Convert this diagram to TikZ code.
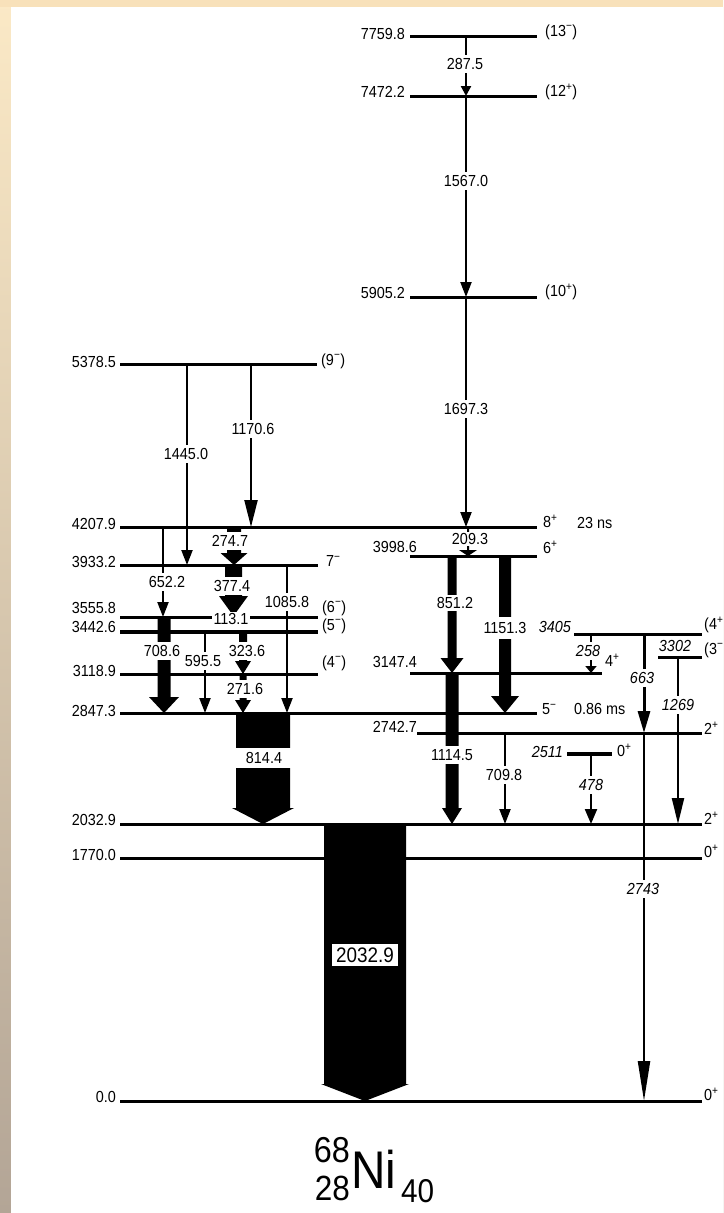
\documentclass[tikz,border=0pt]{standalone}
\usepackage{fontspec}
\setmainfont{Liberation Sans}[FakeStretch=0.9]
\usetikzlibrary{arrows.meta}
\definecolor{bgtop}{HTML}{FBE9C6}
\definecolor{bgmid}{HTML}{E6D3B9}
\definecolor{bgbot}{HTML}{B3A596}
\definecolor{bgstrip}{HTML}{F8E1BA}
\newcommand\sP{\textsuperscript{+}}
\newcommand\sM{\textsuperscript{\symbol{"2212}}}
\newcommand\fatarr[6]{\fill (#1-#4,#2) -- (#1-#4,#3-#6) -- (#1-#5,#3-#6) -- (#1,#3) -- (#1+#5,#3-#6) -- (#1+#4,#3-#6) -- (#1+#4,#2) -- cycle;}
\newcommand\lev[3]{\draw[lvl] (#2,0 |- #1) -- (#3,0 |- #1);}
\begin{document}
\begin{tikzpicture}[x=1pt,y=-1pt,
  font=\fontsize{16}{19}\selectfont,
  lvl/.style={line width=3pt},
  tr/.style={line width=2.2pt},
  arS/.style={-{Triangle[length=15pt,width=11pt]}},
  elab/.style={anchor=east,inner sep=0pt},
  sp/.style={anchor=west,inner sep=0pt},
  gl/.style={fill=white,inner xsep=1.5pt,inner ysep=3.5pt},
  gli/.style={gl,font=\fontsize{16}{19}\selectfont\itshape},
  ital/.style={font=\fontsize{16}{19}\selectfont\itshape}]
\useasboundingbox (0,0) rectangle (723,1213);
\clip (0,0) rectangle (723,1213);
% background
\shade[top color=bgtop,middle color=bgmid,bottom color=bgbot] (0,0) rectangle (723,1213);
\fill[bgstrip] (0,0) rectangle (723,7);
\fill[white] (11,7) rectangle (723,1213);
% level coordinates
\coordinate (L7760) at (0,36);
\coordinate (L7472) at (0,96);
\coordinate (L5905) at (0,297);
\coordinate (L5379) at (0,364);
\coordinate (L4208) at (0,527);
\coordinate (L3999) at (0,556);
\coordinate (L3933) at (0,565);
\coordinate (L3556) at (0,617);
\coordinate (L3443) at (0,632);
\coordinate (L3405) at (0,634);
\coordinate (L3302) at (0,657);
\coordinate (L3147) at (0,673);
\coordinate (L3119) at (0,674);
\coordinate (L2847) at (0,713);
\coordinate (L2743) at (0,733);
\coordinate (L2511) at (0,754);
\coordinate (L2033) at (0,824);
\coordinate (L1770) at (0,858);
\coordinate (L0) at (0,1101);
% level lines
\lev{L7760}{410}{537}
\lev{L7472}{410}{537}
\lev{L5905}{410}{537}
\lev{L5379}{120}{317}
\lev{L4208}{120}{537}
\lev{L3999}{410}{537}
\lev{L3933}{120}{318}
\lev{L3556}{120}{318}
\draw[line width=4pt] (120,0 |- L3443) -- (318,0 |- L3443);
\lev{L3405}{574}{702}
\lev{L3302}{658}{702}
\lev{L3147}{410}{602}
\lev{L3119}{120}{318}
\lev{L2847}{120}{537}
\lev{L2743}{417}{702}
\draw[line width=4.5pt] (567,0 |- L2511) -- (612,0 |- L2511);
\lev{L2033}{120}{702}
\lev{L1770}{120}{702}
\lev{L0}{120}{702}
% thin transitions
\draw[tr,-{Triangle[length=10pt,width=10pt]}] (466,0 |- L7760) -- (466,0 |- L7472);
\draw[tr,arS] (466,0 |- L7472) -- (466,0 |- L5905);
\draw[tr,arS] (466,0 |- L5905) -- (466,0 |- L4208);
\draw[tr,arS] (187,0 |- L5379) -- (187,0 |- L3933);
\draw[tr,-{Triangle[length=27pt,width=13pt]}] (251,0 |- L5379) -- (251,0 |- L4208);
\draw[tr,arS] (163,0 |- L4208) -- (163,0 |- L3556);
\draw[tr,arS] (287,0 |- L3933) -- (287,0 |- L2847);
\draw[tr,arS] (205,0 |- L3443) -- (205,0 |- L2847);
\draw[tr,arS] (505,0 |- L2743) -- (505,0 |- L2033);
\draw[tr,-{Triangle[length=7pt,width=11pt]}] (591,0 |- L3405) -- (591,0 |- L3147);
\draw[line width=3pt,-{Triangle[length=22pt,width=12pt]}] (644,0 |- L3405) -- (644,0 |- L2743);
\draw[tr,-{Triangle[length=40pt,width=12pt]}] (644,0 |- L2743) -- (644,0 |- L0);
\draw[tr,-{Triangle[length=26pt,width=12pt]}] (678,0 |- L3302) -- (678,0 |- L2033);
\draw[tr,-{Triangle[length=15pt,width=12pt]}] (591,0 |- L2511) -- (591,0 |- L2033);
% fat transitions: x, top, bottom, half body, half head, head length
\fatarr{468}{527}{556}{1}{9}{6}
\fatarr{234}{527}{565}{7}{13.5}{12}
\fatarr{233.5}{565}{616}{8.5}{14.5}{20}
\fatarr{243}{632}{674}{4}{8}{13}
\fatarr{243}{674}{713}{3.5}{8}{13}
\fatarr{164}{617}{713}{6.5}{15}{16}
\fatarr{263}{713}{824}{27}{31}{16}
\fatarr{365}{824}{1101}{41}{44}{17}
\fatarr{452}{556}{673}{4.5}{11.5}{15}
\fatarr{505}{556}{713}{6}{14}{17}
\fatarr{452}{673}{824}{6.5}{10}{16}
% energy labels
\node[elab] (e7760) at (405,33.5) {7759.8};
\node[elab] (e7472) at (405,92) {7472.2};
\node[elab] (e5905) at (405,293) {5905.2};
\node[elab] (e5379) at (116,362) {5378.5};
\node[elab] (e4208) at (116,524) {4207.9};
\node[elab] (e3933) at (116,562) {3933.2};
\node[elab] (e3556) at (116,607.5) {3555.8};
\node[elab] (e3443) at (116,627) {3442.6};
\node[elab] (e3119) at (116,671) {3118.9};
\node[elab] (e2847) at (116,711) {2847.3};
\node[elab] (e2033) at (116,820) {2032.9};
\node[elab] (e1770) at (116,855) {1770.0};
\node[elab] (e0) at (116,1097) {0.0};
\node[elab] (e3999) at (417,546.5) {3998.6};
\node[elab] (e3147) at (417,662) {3147.4};
\node[elab] (e2743) at (417,726.5) {2742.7};
\node[elab,ital] (e3405) at (571,627) {3405};
\node[inner sep=0pt,ital] (e3302) at (675,645.5) {3302};
\node[elab,ital] (e2511) at (563,752) {2511};
% spin labels
\node[sp] (s7760) at (545,32) {(13\sM)};
\node[sp] (s7472) at (545,92) {(12\sP)};
\node[sp] (s5905) at (545,292) {(10\sP)};
\node[sp] (s5379) at (321,361) {(9\sM)};
\node[sp] (s4208) at (543,521) {8\sP};
\node[sp] (t4208) at (577,523) {23 ns};
\node[sp] (s3999) at (543,547) {6\sP};
\node[sp] (s3933) at (326,561) {7\sM};
\node[sp] (s3556) at (322,608) {(6\sM)};
\node[sp] (s3443) at (322,626) {(5\sM)};
\node[sp] (s3119) at (322,663) {(4\sM)};
\node[sp] (s2847) at (542,709) {5\sM};
\node[sp] (t2847) at (574,709) {0.86 ms};
\node[sp] (s3147) at (605,660) {4\sP};
\node[sp] (s3405) at (704,625) {(4\sP};
\node[sp] (s3302) at (704,650) {(3\sM};
\node[sp] (s2743) at (704,728) {2\sP};
\node[sp] (s2511) at (617,750) {0\sP};
\node[sp] (s2033) at (704,818) {2\sP};
\node[sp] (s1770) at (704,851) {0\sP};
\node[sp] (s0) at (704,1094) {0\sP};
% gamma labels
\node[gl] (g287) at (465,64) {287.5};
\node[gl] (g1567) at (466,181) {1567.0};
\node[gl] (g1697) at (466,409) {1697.3};
\node[gl] (g1445) at (186,454) {1445.0};
\node[gl] (g1171) at (253,429) {1170.6};
\node[gl] (g275) at (230,541) {274.7};
\node[gl,inner ysep=1.5pt] (g209) at (470,539) {209.3};
\node[gl] (g652) at (167,582) {652.2};
\node[gl] (g377) at (232,586) {377.4};
\node[gl] (g1086) at (287,602) {1085.8};
\node[gl,inner ysep=1.5pt] (g113) at (231,619) {113.1};
\node[gl] (g709) at (162,651) {708.6};
\node[gl] (g596) at (203,661) {595.5};
\node[gl] (g324) at (247,651) {323.6};
\node[gl] (g272) at (245,689) {271.6};
\node[gl,minimum width=62pt,inner ysep=4.5pt] (g814) at (264,758) {814.4};
\node[gl,inner ysep=2pt] (g851) at (455,603) {851.2};
\node[gl,inner ysep=5pt] (g1151) at (505,628) {1151.3};
\node[gl] (g1115) at (452,755) {1114.5};
\node[gl] (g710) at (504,775) {709.8};
\node[gli] (g258) at (588,651) {258};
\node[gli] (g663) at (642,678) {663};
\node[gli] (g1269) at (678,705) {1269};
\node[gli] (g478) at (591,785) {478};
\node[gli] (g2743) at (643,889) {2743};
\node[fill=white,inner sep=4pt,font=\fontsize{21}{24}\selectfont] (g2033) at (365,955) {2032.9};
% nucleus
\node[anchor=base west,inner sep=0pt,font=\fontsize{53}{60}\selectfont] (ni) at (351,1188) {Ni};
\node[anchor=base east,inner sep=0pt,font=\fontsize{36}{40}\selectfont] (mass) at (350,1162) {68};
\node[anchor=base east,inner sep=0pt,font=\fontsize{35}{40}\selectfont] (zz) at (350,1200) {28};
\node[anchor=base west,inner sep=0pt,font=\fontsize{33}{40}\selectfont] (nn) at (401,1202) {40};
\end{tikzpicture}
\end{document}
